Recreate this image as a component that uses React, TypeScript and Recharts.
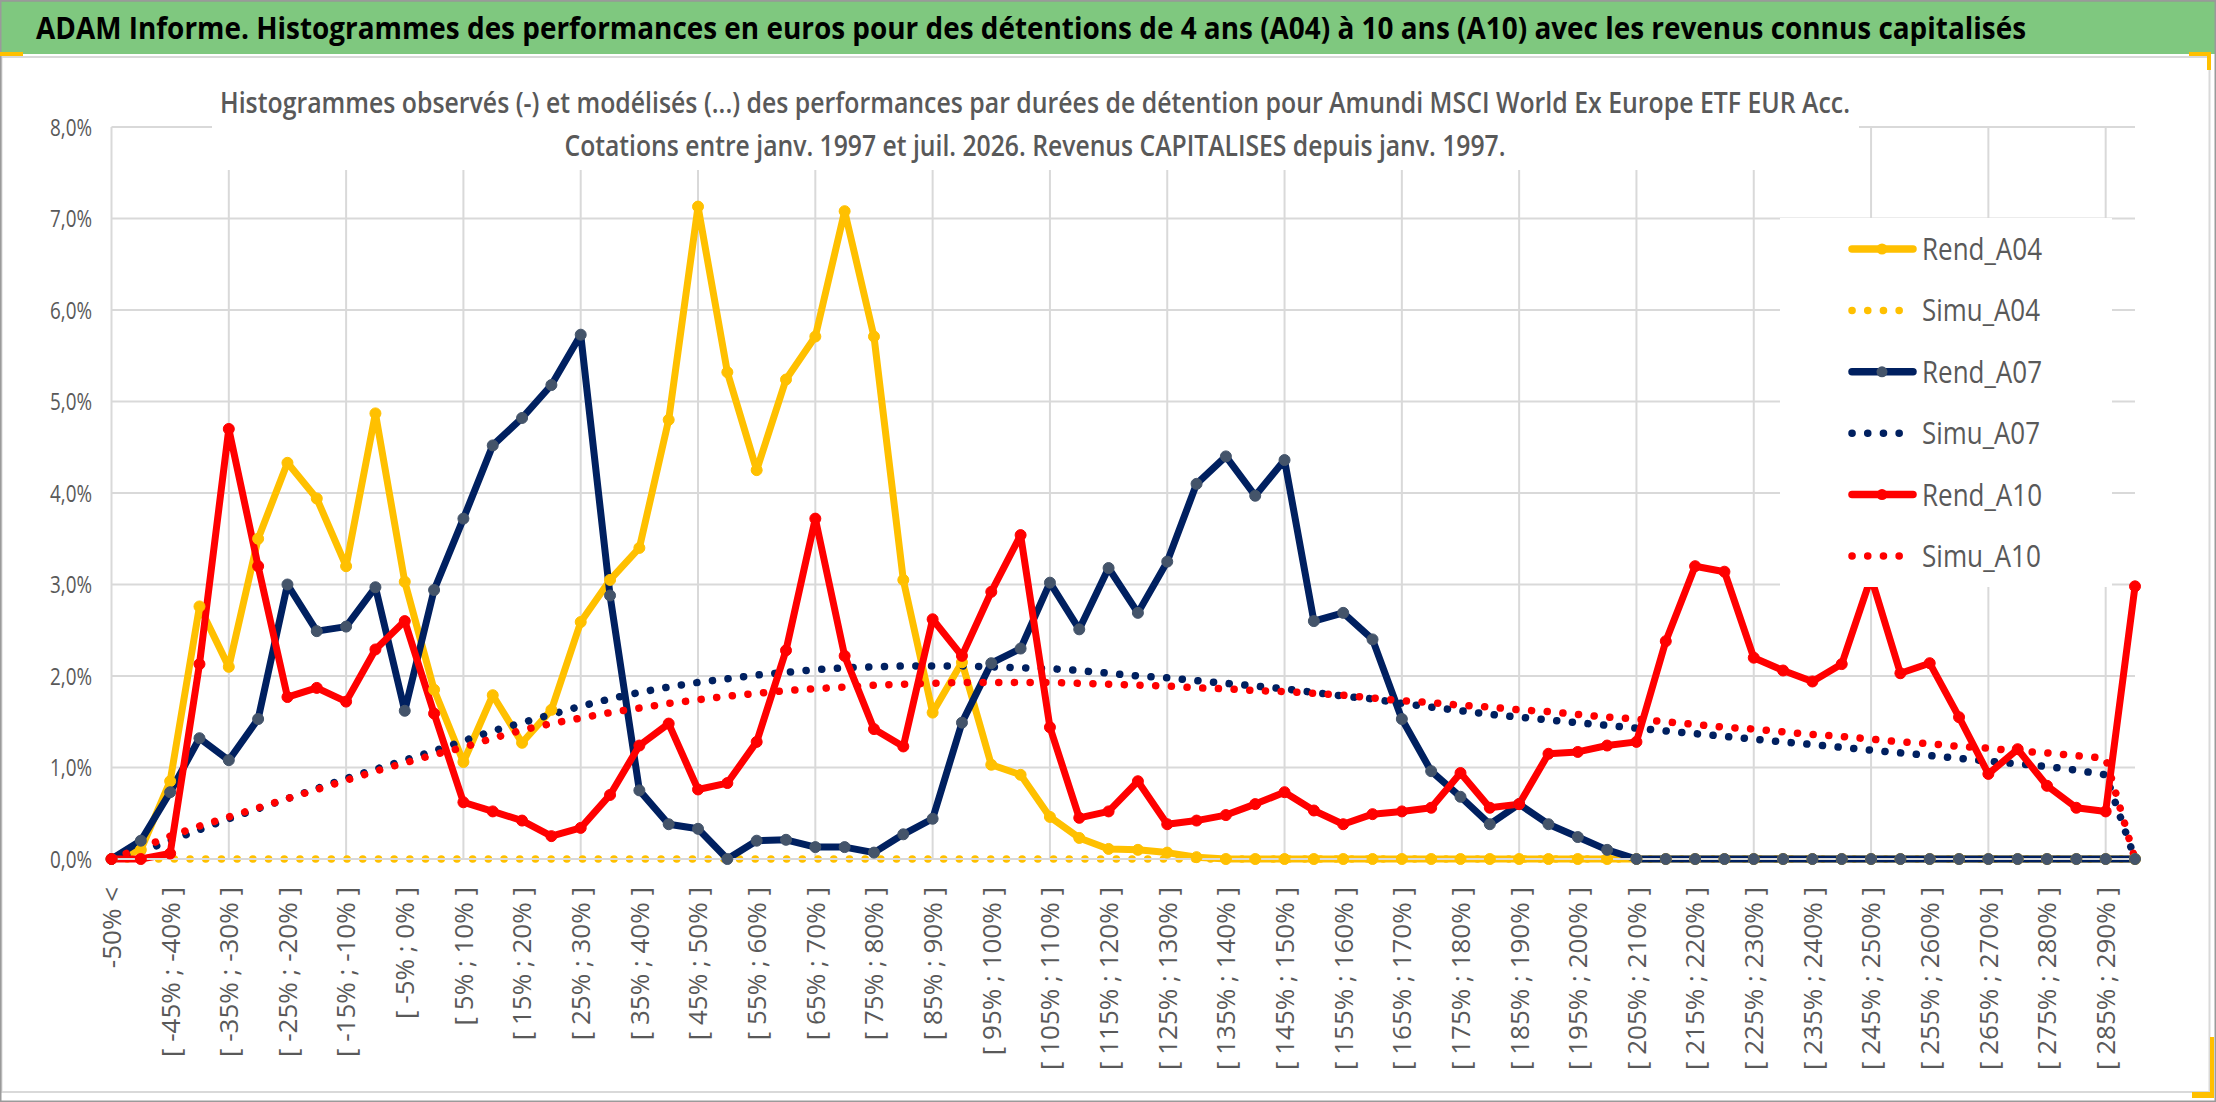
import React from 'react';
import { LineChart, Line, XAxis, YAxis, CartesianGrid, ReferenceLine, Legend } from 'recharts';

const categories = [
  '-50% <', '[ -50% ; -45% ]', '[ -45% ; -40% ]', '[ -40% ; -35% ]', '[ -35% ; -30% ]', '[ -30% ; -25% ]',
  '[ -25% ; -20% ]', '[ -20% ; -15% ]', '[ -15% ; -10% ]', '[ -10% ; -5% ]', '[ -5% ; 0% ]', '[ 0% ; 5% ]',
  '[ 5% ; 10% ]', '[ 10% ; 15% ]', '[ 15% ; 20% ]', '[ 20% ; 25% ]', '[ 25% ; 30% ]', '[ 30% ; 35% ]',
  '[ 35% ; 40% ]', '[ 40% ; 45% ]', '[ 45% ; 50% ]', '[ 50% ; 55% ]', '[ 55% ; 60% ]', '[ 60% ; 65% ]',
  '[ 65% ; 70% ]', '[ 70% ; 75% ]', '[ 75% ; 80% ]', '[ 80% ; 85% ]', '[ 85% ; 90% ]', '[ 90% ; 95% ]',
  '[ 95% ; 100% ]', '[ 100% ; 105% ]', '[ 105% ; 110% ]', '[ 110% ; 115% ]', '[ 115% ; 120% ]', '[ 120% ; 125% ]',
  '[ 125% ; 130% ]', '[ 130% ; 135% ]', '[ 135% ; 140% ]', '[ 140% ; 145% ]', '[ 145% ; 150% ]', '[ 150% ; 155% ]',
  '[ 155% ; 160% ]', '[ 160% ; 165% ]', '[ 165% ; 170% ]', '[ 170% ; 175% ]', '[ 175% ; 180% ]', '[ 180% ; 185% ]',
  '[ 185% ; 190% ]', '[ 190% ; 195% ]', '[ 195% ; 200% ]', '[ 200% ; 205% ]', '[ 205% ; 210% ]', '[ 210% ; 215% ]',
  '[ 215% ; 220% ]', '[ 220% ; 225% ]', '[ 225% ; 230% ]', '[ 230% ; 235% ]', '[ 235% ; 240% ]', '[ 240% ; 245% ]',
  '[ 245% ; 250% ]', '[ 250% ; 255% ]', '[ 255% ; 260% ]', '[ 260% ; 265% ]', '[ 265% ; 270% ]', '[ 270% ; 275% ]',
  '[ 275% ; 280% ]', '[ 280% ; 285% ]', '[ 285% ; 290% ]', '> 290%',
];

const rendA04 = [
  0, 0.1, 0.85, 2.76, 2.1, 3.5, 4.33, 3.94, 3.2, 4.87,
  3.03, 1.85, 1.06, 1.79, 1.27, 1.63, 2.59, 3.05, 3.4, 4.8,
  7.13, 5.32, 4.25, 5.24, 5.71, 7.08, 5.71, 3.05, 1.6, 2.15,
  1.03, 0.92, 0.46, 0.23, 0.11, 0.1, 0.07, 0.02, 0, 0,
  0, 0, 0, 0, 0, 0, 0, 0, 0, 0,
  0, 0, 0, 0, 0, 0, 0, 0, 0, 0,
  0, 0, 0, 0, 0, 0, 0, 0, 0, 0,
];

const simuA04 = [
  0, 0, 0, 0, 0, 0, 0, 0, 0, 0,
  0, 0, 0, 0, 0, 0, 0, 0, 0, 0,
  0, 0, 0, 0, 0, 0, 0, 0, 0, 0,
  0, 0, 0, 0, 0, 0, 0, 0, 0, 0,
  0, 0, 0, 0, 0, 0, 0, 0, 0, 0,
  0, 0, 0, 0, 0, 0, 0, 0, 0, 0,
  0, 0, 0, 0, 0, 0, 0, 0, 0, 0,
];

const rendA07 = [
  0, 0.2, 0.73, 1.32, 1.08, 1.53, 3.0, 2.49, 2.54, 2.97,
  1.62, 2.94, 3.72, 4.52, 4.82, 5.18, 5.73, 2.88, 0.75, 0.38,
  0.33, 0, 0.2, 0.21, 0.13, 0.13, 0.07, 0.27, 0.44, 1.49,
  2.14, 2.3, 3.02, 2.51, 3.18, 2.69, 3.25, 4.1, 4.4, 3.97,
  4.36, 2.6, 2.69, 2.4, 1.53, 0.96, 0.68, 0.38, 0.6, 0.38,
  0.24, 0.1, 0, 0, 0, 0, 0, 0, 0, 0,
  0, 0, 0, 0, 0, 0, 0, 0, 0, 0,
];

const simuA07 = [
  0, 0.08, 0.2, 0.32, 0.44, 0.55, 0.66, 0.77, 0.88, 0.98,
  1.08, 1.18, 1.29, 1.4, 1.49, 1.58, 1.67, 1.75, 1.82, 1.88,
  1.93, 1.97, 2.01, 2.04, 2.07, 2.09, 2.1, 2.11, 2.11, 2.11,
  2.1, 2.09, 2.08, 2.06, 2.03, 2.0, 1.98, 1.95, 1.92, 1.89,
  1.86, 1.82, 1.78, 1.75, 1.7, 1.66, 1.62, 1.58, 1.55, 1.52,
  1.49, 1.46, 1.43, 1.4, 1.37, 1.34, 1.31, 1.28, 1.25, 1.22,
  1.19, 1.16, 1.13, 1.1, 1.07, 1.04, 1.01, 0.97, 0.92, 0,
];

const rendA10 = [
  0, 0, 0.06, 2.13, 4.7, 3.2, 1.77, 1.87, 1.72, 2.29,
  2.6, 1.59, 0.62, 0.52, 0.42, 0.25, 0.34, 0.7, 1.24, 1.48,
  0.76, 0.83, 1.28, 2.28, 3.72, 2.22, 1.42, 1.23, 2.62, 2.22,
  2.92, 3.54, 1.44, 0.45, 0.52, 0.85, 0.38, 0.42, 0.48, 0.6,
  0.73, 0.53, 0.38, 0.49, 0.52, 0.56, 0.94, 0.56, 0.6, 1.15,
  1.17, 1.24, 1.28, 2.38, 3.2, 3.14, 2.2, 2.06, 1.94, 2.13,
  3.08, 2.03, 2.14, 1.55, 0.93, 1.2, 0.8, 0.56, 0.52, 2.98,
];

const simuA10 = [
  0, 0.12, 0.25, 0.36, 0.46, 0.56, 0.66, 0.76, 0.86, 0.96,
  1.05, 1.14, 1.22, 1.32, 1.41, 1.48, 1.54, 1.6, 1.65, 1.7,
  1.74, 1.78, 1.81, 1.84, 1.86, 1.88, 1.9, 1.91, 1.92, 1.93,
  1.93, 1.93, 1.93, 1.92, 1.91, 1.9, 1.89, 1.87, 1.86, 1.84,
  1.83, 1.81, 1.79, 1.76, 1.73, 1.71, 1.68, 1.66, 1.63, 1.61,
  1.58, 1.55, 1.53, 1.5, 1.47, 1.44, 1.42, 1.39, 1.36, 1.34,
  1.31, 1.28, 1.26, 1.23, 1.21, 1.18, 1.16, 1.13, 1.1, 0,
];

const yTicks = [0, 1, 2, 3, 4, 5, 6, 7, 8];
const xLabelIdx = [0, 2, 4, 6, 8, 10, 12, 14, 16, 18, 20, 22, 24, 26, 28, 30, 32, 34, 36, 38, 40, 42, 44, 46, 48, 50, 52, 54, 56, 58, 60, 62, 64, 66, 68];
const vGridIdx = [0, 4, 8, 12, 16, 20, 24, 28, 32, 36, 40, 44, 48, 52, 56, 60, 64, 68];
const legendOrder = ['Rend_A04', 'Simu_A04', 'Rend_A07', 'Simu_A07', 'Rend_A10', 'Simu_A10'];

const data = categories.map((c, i) => ({
  idx: i,
  cat: c,
  Rend_A04: rendA04[i],
  Simu_A04: simuA04[i],
  Rend_A07: rendA07[i],
  Simu_A07: simuA07[i],
  Rend_A10: rendA10[i],
  Simu_A10: simuA10[i],
}));

const YELLOW = '#FFC000';
const NAVY = '#002060';
const RED = '#FF0000';
const SLATE = '#44546A';
const GRID = '#d9d9d9';
const TXT = '#595959';
const FONT = "'Open Sans', 'Noto Sans', sans-serif";

const DOT_DASH = '0.1 15.6';

const legendMeta: Record<string, { color: string; marker: string | null; dotted: boolean; tl: number }> = {
  Rend_A04: { color: YELLOW, marker: YELLOW, dotted: false, tl: 120 },
  Simu_A04: { color: YELLOW, marker: null, dotted: true, tl: 118 },
  Rend_A07: { color: NAVY, marker: SLATE, dotted: false, tl: 120 },
  Simu_A07: { color: NAVY, marker: null, dotted: true, tl: 118 },
  Rend_A10: { color: RED, marker: RED, dotted: false, tl: 120 },
  Simu_A10: { color: RED, marker: null, dotted: true, tl: 119 },
};

const fmtPct = (v: number) => v.toFixed(1).replace('.', ',') + '%';

const XTick = (props: any) => {
  const { x, y, payload } = props;
  return (
    <text
      x={x}
      y={y}
      transform={`rotate(-90, ${x}, ${y})`}
      textAnchor="end"
      dy="0.36em"
      fontSize={26}
      fill={TXT}
      fontFamily={FONT}
    >
      {categories[payload.value]}
    </text>
  );
};

const YTick = (props: any) => {
  const { x, y, payload } = props;
  return (
    <text
      x={x}
      y={y}
      dy={8.5}
      textAnchor="end"
      fontSize={24}
      fill={TXT}
      fontFamily={FONT}
      textLength={42}
      lengthAdjust="spacingAndGlyphs"
    >
      {fmtPct(payload.value)}
    </text>
  );
};

const LegendContent = (props: any) => {
  const payload = (props.payload || []) as any[];
  const byKey: Record<string, any> = {};
  payload.forEach((p: any) => {
    byKey[String(p.dataKey ?? p.value)] = p;
  });
  const ordered = legendOrder.map((k) => byKey[k]).filter(Boolean);
  return (
    <svg width={332} height={369} style={{ display: 'block' }}>
      <rect x={0} y={0} width={332} height={369} fill="#ffffff" />
      {ordered.map((p: any, k: number) => {
        const key = String(p.dataKey ?? p.value);
        const m = legendMeta[key];
        if (!m) return null;
        const cy = 31 + k * 61.4;
        return (
          <g key={key}>
            {m.dotted ? (
              <line
                x1={72}
                y1={cy}
                x2={key === 'Simu_A10' ? 134 : 120}
                y2={cy}
                stroke={m.color}
                strokeWidth={7.5}
                strokeLinecap="round"
                strokeDasharray={DOT_DASH}
              />
            ) : (
              <line x1={72} y1={cy} x2={133} y2={cy} stroke={m.color} strokeWidth={7.5} strokeLinecap="round" />
            )}
            {m.marker ? <circle cx={102} cy={cy} r={5.5} fill={m.marker} /> : null}
            <text
              x={142}
              y={cy + 11}
              fontSize={31}
              fontWeight={500}
              fill={TXT}
              fontFamily={FONT}
              textLength={m.tl}
              lengthAdjust="spacingAndGlyphs"
            >
              {p.value}
            </text>
          </g>
        );
      })}
    </svg>
  );
};

const rendDot = (fill: string) => ({ r: 5.5, fill, stroke: fill, strokeWidth: 1 });

export default function App() {
  return (
    <div style={{ position: 'relative', width: 2216, height: 1102, background: '#ffffff', fontFamily: FONT, overflow: 'hidden' }}>
      <style>{`body{margin:0;}`}</style>
      <div style={{ position: 'absolute', left: 0, top: 0 }}>
        <LineChart width={2216} height={1102} data={data} margin={{ top: 127, right: 81, bottom: 0, left: 0 }}>
          <CartesianGrid vertical={false} stroke={GRID} strokeWidth={2} />
          {vGridIdx.map((i) => (
            <ReferenceLine key={'v' + i} x={i} stroke={GRID} strokeWidth={2} ifOverflow="extendDomain" />
          ))}
          <XAxis
            dataKey="idx"
            type="number"
            domain={[0, 69]}
            ticks={xLabelIdx}
            interval={0}
            height={243}
            tickSize={0}
            tickMargin={28}
            tickLine={false}
            axisLine={{ stroke: GRID, strokeWidth: 2 }}
            tick={(p: any) => <XTick {...p} />}
          />
          <YAxis
            type="number"
            domain={[0, 8]}
            ticks={yTicks}
            width={111.5}
            axisLine={false}
            tickLine={false}
            tickSize={0}
            tickMargin={19.5}
            tick={(p: any) => <YTick {...p} />}
          />
          <Legend
            layout="vertical"
            align="center"
            verticalAlign="middle"
            itemSorter={null as any}
            wrapperStyle={{ left: 1780, top: 218, width: 332, height: 369 }}
            content={(p: any) => <LegendContent {...p} />}
          />
          <Line name="Rend_A04" dataKey="Rend_A04" type="linear" stroke={YELLOW} strokeWidth={7} strokeLinejoin="round" dot={rendDot(YELLOW)} activeDot={false} isAnimationActive={false} />
          <Line name="Simu_A04" dataKey="Simu_A04" type="linear" stroke={YELLOW} strokeWidth={7.5} strokeLinecap="round" strokeDasharray={DOT_DASH} dot={false} activeDot={false} isAnimationActive={false} />
          <Line name="Rend_A07" dataKey="Rend_A07" type="linear" stroke={NAVY} strokeWidth={7} strokeLinejoin="round" dot={rendDot(SLATE)} activeDot={false} isAnimationActive={false} />
          <Line name="Simu_A07" dataKey="Simu_A07" type="linear" stroke={NAVY} strokeWidth={7.5} strokeLinecap="round" strokeDasharray={DOT_DASH} dot={false} activeDot={false} isAnimationActive={false} />
          <Line name="Rend_A10" dataKey="Rend_A10" type="linear" stroke={RED} strokeWidth={7} strokeLinejoin="round" dot={rendDot(RED)} activeDot={false} isAnimationActive={false} />
          <Line name="Simu_A10" dataKey="Simu_A10" type="linear" stroke={RED} strokeWidth={7.5} strokeLinecap="round" strokeDasharray={DOT_DASH} dot={false} activeDot={false} isAnimationActive={false} />
        </LineChart>
      </div>
      <svg width={2216} height={1102} style={{ position: 'absolute', left: 0, top: 0, pointerEvents: 'none' }}>
        <rect x={0} y={0} width={2216} height={54} fill="#7fc87f" />
        <line x1={0} y1={0.75} x2={2216} y2={0.75} stroke="#8a9a8a" strokeWidth={1.5} />
        <text x={1031} y={38.5} textAnchor="middle" fontSize={30} fontWeight={700} fill="#000000" fontFamily={FONT} textLength={1990} lengthAdjust="spacingAndGlyphs">
          ADAM Informe. Histogrammes des performances en euros pour des détentions de 4 ans (A04) à 10 ans (A10) avec les revenus connus capitalisés
        </text>
        <rect x={1.5} y={57} width={2208} height={1035} fill="none" stroke={GRID} strokeWidth={2} />
        <rect x={0.75} y={0.75} width={2214.5} height={1100.5} fill="none" stroke="#9a9a9a" strokeWidth={1.5} />
        <rect x={212} y={68} width={1647} height={102} fill="#ffffff" />
        <text x={1035} y={112.7} textAnchor="middle" fontSize={29} fontWeight={600} fill={TXT} fontFamily={FONT} textLength={1630} lengthAdjust="spacingAndGlyphs">
          Histogrammes observés (-) et modélisés (...) des performances par durées de détention pour Amundi MSCI World Ex Europe ETF EUR Acc.
        </text>
        <text x={1035} y={156} textAnchor="middle" fontSize={29} fontWeight={600} fill={TXT} fontFamily={FONT} textLength={941} lengthAdjust="spacingAndGlyphs">
          Cotations entre janv. 1997 et juil. 2026. Revenus CAPITALISES depuis janv. 1997.
        </text>
        <rect x={0} y={52} width={23} height={4} fill={YELLOW} />
        <rect x={2189} y={52} width={22} height={4} fill={YELLOW} />
        <rect x={2207} y={52} width={4} height={18} fill={YELLOW} />
        <rect x={2210} y={1037} width={4} height={61} fill={YELLOW} />
        <rect x={2192} y={1092} width={22} height={6} fill={YELLOW} />
      </svg>
    </div>
  );
}
